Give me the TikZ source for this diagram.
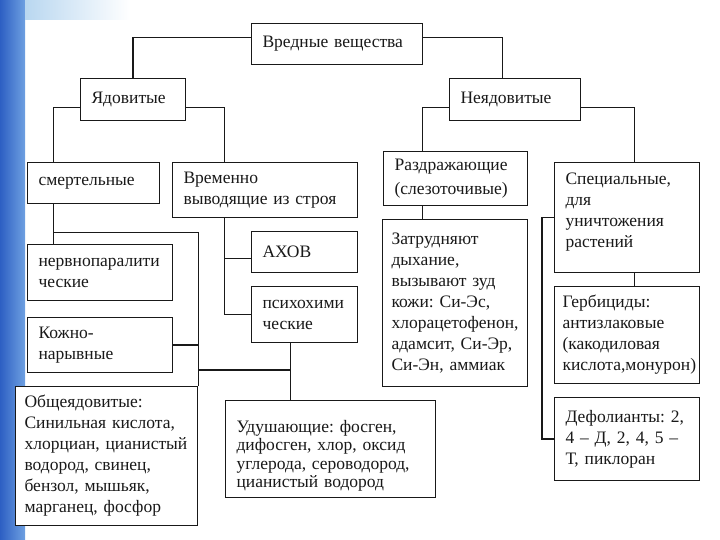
\documentclass[tikz,border=0pt]{standalone}
\usepackage{fontspec}
\setmainfont{Liberation Serif}
\usetikzlibrary{calc}
\definecolor{bgblueA}{RGB}{45,95,195}
\definecolor{bgblueB}{RGB}{110,160,225}
\definecolor{bgblueC}{RGB}{185,215,240}
\definecolor{ink}{RGB}{25,25,25}
\frenchspacing
\begin{document}
\begin{tikzpicture}[x=1pt,y=-1pt,
 box/.style={draw=ink, fill=white, line width=1.1pt, rectangle, anchor=north west,
   inner xsep=11pt, inner ysep=2pt, align=left,
   font=\fontsize{17.5}{21}\selectfont\frenchspacing, text=ink},
 wire/.style={draw=ink, line width=1.2pt}]
\useasboundingbox (0,0) rectangle (720,540);
\fill[white] (0,0) rectangle (720,540);
\shade[left color=bgblueA, right color=bgblueB] (0,0) rectangle (25,540);
\shade[left color=bgblueC, right color=white] (25,0) rectangle (130,20);

% nodes
\node[box, text width=149pt, minimum height=41pt] (root) at (251,23) {Вредные вещества};
\node[box, text width=83pt, minimum height=42pt] (yad) at (80,78) {Ядовитые};
\node[box, text width=109pt, minimum height=42pt] (ne) at (449,78) {Неядовитые};
\node[box, text width=110pt, minimum height=41pt] (smert) at (27,162) {смертельные};
\node[box, text width=163pt, minimum height=55pt] (vrem) at (172,162) {Временно\\выводящие из строя};
\node[box, text width=84pt, minimum height=41pt] (axov) at (251,231) {АХОВ};
\node[box, text width=84pt, minimum height=56pt] (psych) at (251,286) {психохими\\ческие};
\node[box, text width=123pt, minimum height=56pt] (nerv) at (27,244) {нервнопаралити\\ческие};
\node[box, text width=123pt, minimum height=55pt] (kozh) at (27,317) {Кожно-\\нарывные};
\node[box, inner xsep=9pt, text width=164pt, minimum height=139pt] (obsh) at (15,386) {Общеядовитые:\\Синильная кислота,\\хлорциан, цианистый\\водород, свинец,\\бензол, мышьяк,\\марганец, фосфор};
\node[box, text width=188pt, minimum height=97pt, font=\fontsize{17.5}{18.5}\selectfont\frenchspacing] (udush) at (225,400) {\rule{0pt}{26pt}Удушающие: фосген,\\дифосген, хлор, оксид\\углерода, сероводород,\\цианистый водород};
\node[box, text width=122pt, minimum height=54pt] (razd) at (383,151) {Раздражающие\\[3pt](слезоточивые)};
\node[box, inner xsep=9pt, text width=127pt, minimum height=167pt] (zat) at (382,219) {Затрудняют\\дыхание,\\вызывают зуд\\кожи: Си-Эс,\\хлорацетофенон,\\адамсит, Си-Эр,\\Си-Эн, аммиак};
\node[box, text width=123pt, minimum height=110pt] (spec) at (554,162) {Специальные,\\для\\уничтожения\\растений\rule[-14pt]{0pt}{14pt}};
\node[box, inner xsep=8pt, text width=129pt, minimum height=97pt] (gerb) at (554,286) {Гербициды:\\антизлаковые\\(какодиловая\\кислота,монурон)};
\node[box, text width=123pt, minimum height=83pt] (defol) at (554,397) {Дефолианты: 2,\\4 – Д, 2, 4, 5 –\\Т, пиклоран};

% connectors
\draw[wire] ($(root.west)+(0,-6.5)$) -| (yad.north);
\draw[wire] ($(root.east)+(0,-6.5)$) -| ($(ne.north)+(-12.5,0)$);
\draw[wire] ($(yad.west)+(0,8)$) -| ($(smert.north)+(-40,0)$);
\draw[wire] ($(yad.east)+(0,8)$) -| ($(vrem.north)+(-40.5,0)$);
\draw[wire] ($(ne.west)+(0,8)$) -| ($(razd.north)+(-33,0)$);
\draw[wire] ($(ne.east)+(0,8)$) -| ($(spec.north)+(7.5,0)$);

\coordinate (sx) at ($(smert.south)+(-40,0)$);
\draw[wire] (sx) -- (sx |- nerv.north);
\coordinate (jA) at ($(sx)+(0,28)$);
\draw[wire] (jA) -| (obsh.north east);
\draw[wire] (kozh.east) -- (kozh.east -| obsh.north east);
\coordinate (px) at ($(psych.south)+(-14,0)$);
\draw[wire] (px) -- (px |- udush.north);
\coordinate (jB) at ($(obsh.north east)+(0,-16)$);
\draw[wire] (jB) -- (jB -| px);

\coordinate (vx) at ($(vrem.south)+(-40.5,0)$);
\draw[wire] (vx) |- (psych.west);
\coordinate (ax) at ($(axov.west)+(0,6.5)$);
\draw[wire] (ax) -- (ax -| vx);

\coordinate (rx) at ($(razd.south)+(-33,0)$);
\draw[wire] (rx) -- (rx |- zat.north);
\coordinate (spx) at ($(spec.south)+(7.5,0)$);
\draw[wire] (spx) -- (spx |- gerb.north);
\coordinate (bx) at ($(spec.west)+(-12,0)$);
\draw[wire] (spec.west) -- (bx) |- (defol.west);
\end{tikzpicture}
\end{document}
